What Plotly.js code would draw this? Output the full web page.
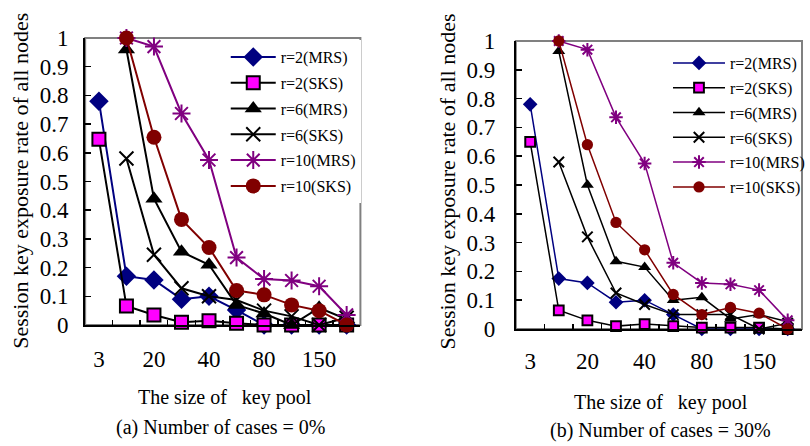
<!DOCTYPE html>
<html>
<head>
<meta charset="utf-8">
<script src="https://cdn.plot.ly/plotly-3.0.1.min.js"></script>
<style>html,body{margin:0;padding:0;background:#fff;}#chart{width:810px;height:446px;}</style>
</head>
<body>
<div id="chart"></div>
<script>
// key pool sizes (categories); only every other one is labelled
const poolSizes = ['3','10','20','30','40','60','80','100','150','200'];
const tickLabels = ['3','','20','','40','','80','','150',''];
const seriesNames = ['r=2(MRS)','r=2(SKS)','r=6(MRS)','r=6(SKS)','r=10(MRS)','r=10(SKS)'];

// (a) Number of cases = 0%
const a_r2_mrs  = [0.78, 0.17, 0.157, 0.09, 0.10, 0.052, 0.0, 0.0, 0.0, 0.0];
const a_r2_sks  = [0.647, 0.066, 0.035, 0.01, 0.015, 0.006, 0.0, 0.0, 0.0, 0.0];
const a_r6_mrs  = [null, 0.96, 0.44, 0.255, 0.21, 0.07, 0.04, 0.0, 0.06, 0.02];
const a_r6_sks  = [null, 0.58, 0.245, 0.128, 0.10, 0.087, 0.05, 0.03, 0.0, 0.025];
const a_r10_mrs = [null, 1.0, 0.97, 0.737, 0.575, 0.235, 0.16, 0.155, 0.135, 0.035];
const a_r10_sks = [null, 1.0, 0.654, 0.368, 0.27, 0.12, 0.105, 0.07, 0.05, 0.0];

// (b) Number of cases = 30%
const b_r2_mrs  = [0.78, 0.175, 0.16, 0.093, 0.10, 0.05, 0.0, 0.0, 0.0, 0.0];
const b_r2_sks  = [0.65, 0.065, 0.03, 0.01, 0.017, 0.01, 0.005, 0.005, 0.005, 0.0];
const b_r6_mrs  = [null, 0.965, 0.50, 0.235, 0.215, 0.10, 0.11, 0.035, 0.05, 0.025];
const b_r6_sks  = [null, 0.58, 0.32, 0.125, 0.085, 0.05, 0.05, 0.05, 0.0, 0.02];
const b_r10_mrs = [null, 1.0, 0.97, 0.735, 0.575, 0.23, 0.16, 0.155, 0.135, 0.03];
const b_r10_sks = [null, 1.0, 0.64, 0.37, 0.275, 0.12, 0.05, 0.075, 0.055, 0.0];

const FONT = '"Liberation Serif", "Times New Roman", Times, serif';
const NAVY = '#000080', MAG = '#FF00FF', PURP = '#800080', DRED = '#800000', BLK = '#000000';

function styles(big) {
  const s = big ? 1 : 0.75;
  const lw = big ? 2 : 1.5;
  return [
    {line:{color:NAVY,width:lw}, marker:{symbol:'diamond',size:15*s,color:NAVY}},
    {line:{color:BLK,width:lw}, marker:{symbol:'square',size:13*s,color:MAG,line:{color:BLK,width:2}}},
    {line:{color:BLK,width:lw}, marker:{symbol:'triangle-up',size:15*s,color:BLK}},
    {line:{color:BLK,width:lw}, marker:{symbol:'x-thin-open',size:14*s,color:BLK,line:{color:BLK,width:2}}},
    {line:{color:PURP,width:lw}, marker:{symbol:'asterisk-open',size:15*s,color:PURP,line:{color:PURP,width:2}}},
    {line:{color:DRED,width:lw}, marker:{symbol:'circle',size:15*s,color:DRED}}
  ];
}

const dataA = [a_r2_mrs, a_r2_sks, a_r6_mrs, a_r6_sks, a_r10_mrs, a_r10_sks];
const dataB = [b_r2_mrs, b_r2_sks, b_r6_mrs, b_r6_sks, b_r10_mrs, b_r10_sks];

const traces = [];
const stA = styles(true), stB = styles(false);
dataA.forEach((ys, i) => {
  traces.push(Object.assign({
    type:'scatter', mode:'lines+markers', x:poolSizes, y:ys, name:seriesNames[i],
    xaxis:'x', yaxis:'y', legend:'legend', legendgroup:'a'+i, cliponaxis:false, connectgaps:false
  }, stA[i]));
});
dataB.forEach((ys, i) => {
  traces.push(Object.assign({
    type:'scatter', mode:'lines+markers', x:poolSizes, y:ys, name:seriesNames[i],
    xaxis:'x2', yaxis:'y2', legend:'legend2', legendgroup:'b'+i, cliponaxis:false, connectgaps:false
  }, stB[i]));
});

function xax(domain, standoff) {
  return {
    domain: domain, type:'category', categoryorder:'array', categoryarray: poolSizes,
    range:[-0.5, 9.5], tickmode:'array', tickvals: poolSizes, ticktext: tickLabels, tickangle:0,
    tickson:'boundaries', ticks:'inside', ticklen:5, tickwidth:1.5, tickcolor:BLK,
    showline:true, linecolor:BLK, linewidth:2, showgrid:false, zeroline:false,
    tickfont:{family:FONT,size:23,color:BLK}, ticklabelstandoff: standoff, fixedrange:true
  };
}
function yax(domain, anchor, standoff) {
  return {
    domain: domain, anchor: anchor, range:[0,1], dtick:0.1, tick0:0,
    ticks:'inside', ticklen:6, tickwidth:1.5, tickcolor:BLK,
    showline:true, linecolor:BLK, linewidth:2, showgrid:false, zeroline:false,
    tickfont:{family:FONT,size:23,color:BLK}, ticklabelstandoff: standoff, fixedrange:true
  };
}

const W = 810, H = 446;
function ann(x, y, text, size, angle) {
  return {xref:'paper', yref:'paper', x:x/W, y:1-y/H, xanchor:'center', yanchor:'middle',
          text:text, textangle:angle||0, showarrow:false, font:{family:FONT,size:size,color:BLK}};
}
const layout = {
  width: W, height: H, margin:{l:0,r:0,t:0,b:0},
  paper_bgcolor:'#fff', plot_bgcolor:'#fff',
  font:{family:FONT,color:BLK},
  xaxis: Object.assign(xax([86/W, 364/W], 12), {anchor:'y'}),
  yaxis: yax([1-325/H, 1-38/H], 'x', 10),
  xaxis2: Object.assign(xax([521/W, 1], 10), {anchor:'y2'}),
  yaxis2: yax([1-329/H, 1-41/H], 'x2', 14),
  showlegend:true,
  legend: {x:228/W, y:1-40/H, xanchor:'left', yanchor:'top', bgcolor:'#fff', borderwidth:0,
           font:{family:FONT,size:16,color:BLK}, tracegroupgap:2, itemwidth:45, traceorder:'grouped'},
  legend2: {x:675/W, y:1-46/H, xanchor:'left', yanchor:'top', bgcolor:'rgba(0,0,0,0)', borderwidth:0,
           font:{family:FONT,size:16,color:BLK}, tracegroupgap:1, itemwidth:52, traceorder:'grouped'},
  shapes: [
    {type:'rect', xref:'x domain', yref:'y domain', x0:0, x1:1, y0:0, y1:1, line:{color:'#808080',width:2}, layer:'below'},
    {type:'rect', xref:'x2 domain', yref:'y2 domain', x0:0, x1:1, y0:0, y1:1, line:{color:'#808080',width:2}, layer:'below'}
  ],
  annotations: [
    ann(21, 181, 'Session key exposure rate of all nodes', 22, -90),
    ann(451, 182, 'Session key exposure rate of all nodes', 22, -90),
    ann(227, 397, 'The size of \u00a0 key pool', 20),
    ann(223, 427, '(a) Number of cases = 0%', 20),
    ann(668, 402, 'The size of \u00a0 key pool', 20),
    ann(667, 430, '(b) Number of cases = 30%', 20)
  ]
};

Plotly.newPlot('chart', traces, layout, {staticPlot:true, displayModeBar:false});
</script>
</body>
</html>
